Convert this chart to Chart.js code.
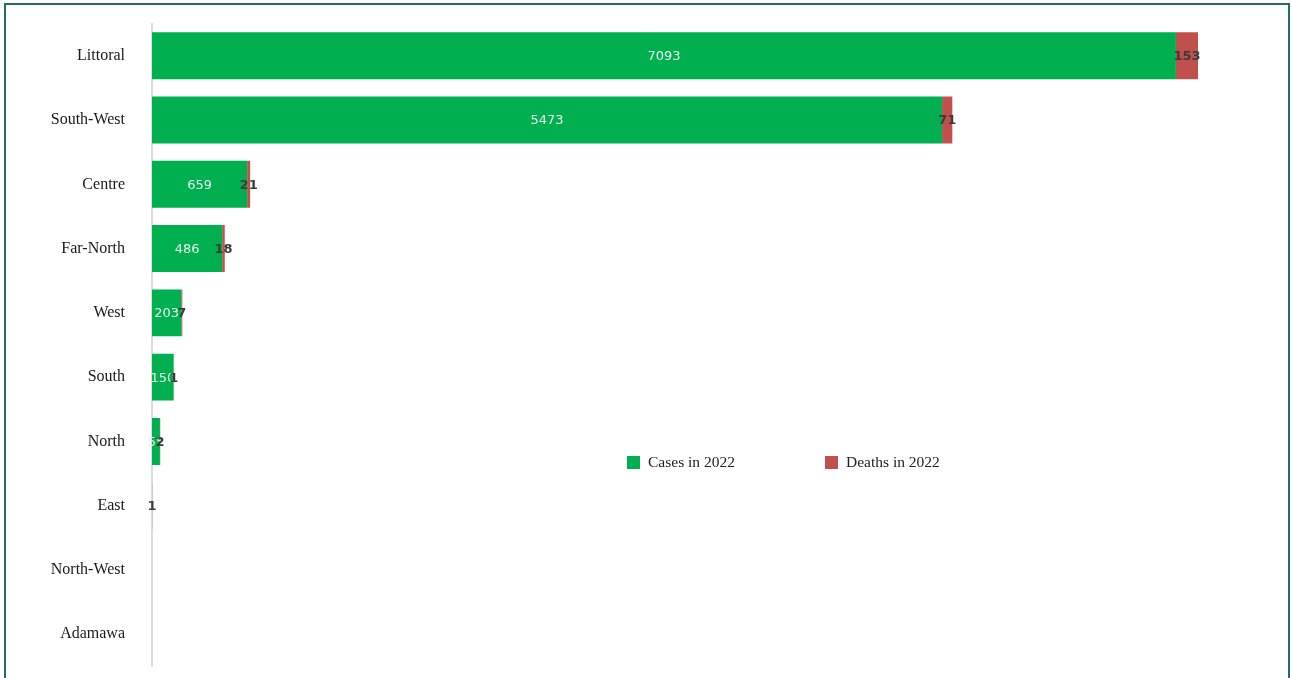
<!DOCTYPE html>
<html>
<head>
<meta charset="utf-8">
<script src="https://cdn.jsdelivr.net/npm/chart.js@4"></script>
<style>
  html, body { margin: 0; padding: 0; background: #fff; }
  #wrap { position: relative; width: 1292px; height: 678px; overflow: hidden; }
  #chart { position: absolute; left: 0; top: -5px; }
  #frame { position: absolute; left: 4px; top: 3px; width: 1286px; height: 700px;
           border: 2px solid #226d6b; box-sizing: border-box; pointer-events: none; }
  #legend { position: absolute; top: 453px; left: 627px; font-family: "Liberation Serif", "DejaVu Serif", serif;
            font-size: 15.5px; color: #222; display: flex; }
  #legend .item { display: flex; align-items: center; }
  #legend .box { width: 13px; height: 13px; margin-right: 8px; }
</style>
</head>
<body>
<div id="wrap">
  <canvas id="chart" width="1292" height="700"></canvas>
  <div id="frame"></div>
  <div id="legend"></div>
</div>
<script>
// regions, top to bottom
const regions = ['Littoral', 'South-West', 'Centre', 'Far-North', 'West', 'South', 'North', 'East', 'North-West', 'Adamawa'];
const cases2022 = [7093, 5473, 659, 486, 203, 150, 55, 0, 0, 0];
const deaths2022 = [153, 71, 21, 18, 7, 1, 2, 1, 0, 0];

const green = '#00b050';
const red = '#c0504d';

// value labels drawn in the middle of each bar segment
const barLabels = {
  id: 'barLabels',
  afterDatasetsDraw(chart) {
    const ctx = chart.ctx;
    ctx.save();
    ctx.textAlign = 'center';
    ctx.textBaseline = 'middle';
    chart.data.datasets.forEach((ds, i) => {
      const meta = chart.getDatasetMeta(i);
      ctx.font = i === 0 ? '13px "DejaVu Sans", sans-serif' : 'bold 13px "DejaVu Sans", sans-serif';
      ctx.fillStyle = i === 0 ? '#e4f5e9' : '#3b3b3b';
      meta.data.forEach((bar, j) => {
        const v = ds.data[j];
        if (!v) return;
        const x = (bar.x + bar.base) / 2;
        ctx.fillText(String(v), x, bar.y + 1);
      });
    });
    ctx.restore();
  }
};

const chart = new Chart(document.getElementById('chart').getContext('2d'), {
  type: 'bar',
  data: {
    labels: regions,
    datasets: [
      { label: 'Cases in 2022', data: cases2022, backgroundColor: green, borderWidth: 0 },
      { label: 'Deaths in 2022', data: deaths2022, backgroundColor: red, borderWidth: 0 }
    ]
  },
  options: {
    indexAxis: 'y',
    responsive: false,
    animation: false,
    barPercentage: 0.73,
    categoryPercentage: 1,
    layout: { padding: { top: 6, right: 14, left: 0, bottom: 10 } },
    plugins: { legend: { display: false }, tooltip: { enabled: false } },
    scales: {
      x: {
        stacked: true,
        min: 0,
        max: 7800,
        afterFit: s => { s.height = 0; },
        grid: { display: false },
        border: { display: false },
        ticks: { display: false }
      },
      y: {
        stacked: true,
        afterFit: s => { s.width = 152; },
        grid: { display: false },
        border: { display: true, color: '#dcdcdc', width: 2 },
        ticks: {
          color: '#1a1a1a',
          padding: 19,
          font: { family: '"Liberation Serif", "DejaVu Serif", serif', size: 16 }
        }
      }
    }
  },
  plugins: [barLabels]
});

// legend built from the datasets
const legend = document.getElementById('legend');
chart.data.datasets.forEach((ds, i) => {
  const item = document.createElement('div');
  item.className = 'item';
  item.style.marginRight = i === 0 ? '90px' : '0';
  item.innerHTML = '<span class="box" style="background:' + ds.backgroundColor + '"></span>' + ds.label;
  legend.appendChild(item);
});
</script>
</body>
</html>
